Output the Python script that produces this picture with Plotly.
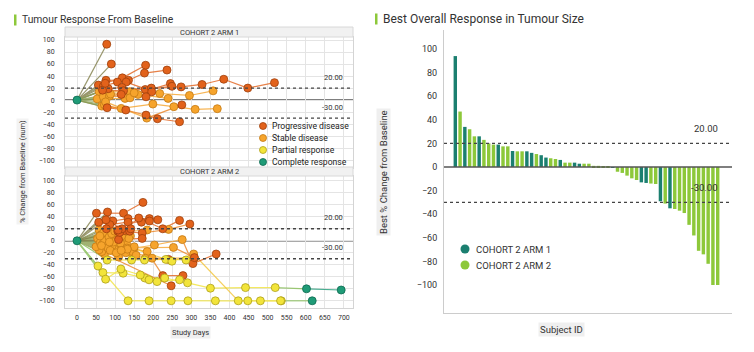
import plotly.graph_objects as go

W, H = 754, 352

# ---------------- DATA ----------------
categories = ["Progressive disease", "Stable disease", "Partial response", "Complete response"]
cat_codes = ["PD", "SD", "PR", "CR"]
cat_fill = {"PD": "#E2621B", "SD": "#F6A42C", "PR": "#F2E43A", "CR": "#1F9B77"}
cat_edge = {"PD": "#9E400C", "SD": "#C47A14", "PR": "#ADA01C", "CR": "#0E6A50"}

baseline_day = 0
baseline_val = 0

# COHORT 2 ARM 1 : per-patient visits (study day, % change, response)
arm1_days = [
    [78], [90], [56, 119, 180], [76, 135, 177, 236], [69, 106, 129, 188, 245],
    [82, 118, 179, 249], [67, 122, 195, 273, 328, 385, 448, 518],
    [58, 139, 217, 295, 357], [53, 126, 139, 160, 239], [69, 116, 196], [85, 181],
    [65, 116, 199, 254, 310, 368], [79, 128], [72, 181, 211, 269], [75, 183, 275],
    [74], [88, 150],
]
arm1_vals = [
    [93], [60], [25, 37, 58], [33, 33, 45, 50], [23, 30, 30, 16.5, 27.5],
    [19, 21, 17.6, 23], [16.5, 15.4, 20, 22, 26, 34.7, 20, 29],
    [13.8, 13.8, 11, 7.7, 15.4], [2, 2.8, 3.8, 9.4, 2.8], [5.5, 9.4, 13.8], [6.6, 5.5],
    [-10, -13.8, -6.6, -11, -15.4, -14.3], [-12.7, -16.5], [-8, -25, -31, -36], [-3, -30, -8],
    [28], [10, 12],
]
arm1_cats = [
    ["PD"], ["PD"], ["PD"] * 3, ["PD"] * 4, ["PD"] * 5,
    ["PD"] * 4, ["PD"] * 8,
    ["SD"] * 5, ["SD"] * 5, ["SD", "PD", "PD"], ["SD", "PD"],
    ["SD"] * 6, ["PD", "PD"], ["SD", "PD", "PD", "PD"], ["SD", "SD", "PD"],
    ["PD"], ["SD", "SD"],
]

# COHORT 2 ARM 2
arm2_days = [
    [55, 134, 189, 247, 291, 363, 448, 536, 617],
    [68, 121, 178, 230, 290, 350, 442, 520, 602, 693],
    [79, 143, 177, 233, 286],
    [75, 115, 166, 189, 210, 269],
    [60, 149, 249, 306, 423, 481, 534],
    [51, 122, 173], [80, 94, 134, 190, 212], [57, 86, 134, 169, 190],
    [76, 124, 162, 225, 269], [107, 171, 240, 296], [109, 171], [62, 184],
    [90, 184, 225, 278], [72, 247], [120, 203, 276, 304, 365], [100, 253, 308],
    [88, 179, 240], [95, 197, 308], [65, 144], [58, 109], [66, 130],
    [50, 102], [54, 96, 140], [58, 112], [61, 98, 145], [63, 118], [67, 105, 150],
    [70, 126], [73, 92, 131], [77, 120], [81, 114], [84, 108, 138], [87, 128],
    [91, 136], [96, 117], [99, 141], [103, 132], [60, 85], [64, 116, 155],
]
arm2_vals = [
    [-42, -100, -100, -100, -100, -100, -100, -100, -100],
    [-53, -54, -62, -62, -70, -79, -78, -78, -80, -82],
    [-32, -32, -32, -31, -32],
    [-64, -47, -57, -65, -68, -65],
    [-5, -13, -34, -22, -100, -100, -100],
    [46, 46, 64], [48, 33, 37, 37, 35], [31, 27, 31, 31, 33],
    [35, 17, 38, 20, 34], [16, 13, 19, 28], [2, 4], [12, 18],
    [-5, -18, -58, -58], [-22, -75], [-15, -7, 2, -38, -22], [-12, -11, -28],
    [-14, -29, -31], [-8, -29, -29], [-18, -21], [-15, -27], [8, -5],
    [-10, -6], [4, 12, 8], [18, 14], [-3, -14, -18], [10, 20], [-6, 2, -10],
    [14, 6], [0, -8, -12], [20, 10], [-12, -4], [6, 18, 16], [-16, -20],
    [12, 4], [-2, 8], [16, 20], [-20, -14], [8, -2], [-8, -16, -24],
]
arm2_cats = [
    ["PR"] * 8 + ["CR"],
    ["PR"] * 8 + ["CR", "CR"],
    ["PR"] * 5,
    ["PR"] * 6,
    ["SD", "SD", "PR", "SD", "PR", "PR", "PR"],
    ["PD"] * 3, ["PD"] * 5, ["PD"] * 5,
    ["PD"] * 5, ["PD", "PD", "SD", "PD"], ["PD", "PD"], ["SD", "SD"],
    ["SD", "SD", "PD", "PD"], ["SD", "PD"], ["SD", "SD", "SD", "PD", "PD"], ["SD", "SD", "PD"],
    ["SD", "SD", "PD"], ["SD", "SD", "SD"], ["SD", "SD"], ["SD", "SD"], ["SD", "SD"],
    ["SD", "SD"], ["SD"] * 3, ["SD", "PD"], ["SD"] * 3, ["SD", "PD"], ["SD"] * 3,
    ["SD", "SD"], ["SD"] * 3, ["PD", "SD"], ["SD", "SD"], ["SD", "PD", "PD"], ["SD", "SD"],
    ["SD", "SD"], ["SD", "SD"], ["SD", "PD"], ["SD", "SD"], ["SD", "SD"], ["SD"] * 3,
]

thresholds = [20, -30]
day_ticks = list(range(0, 701, 50))

# Waterfall: best overall response per subject (sorted), and the arm of each subject
best_response = [94, 47, 34, 32, 26, 26, 23, 20, 19, 19, 17.5, 17.5, 13.6, 13.3, 13.3, 13.3,
                 12, 11, 10, 8, 7.4, 6.8, 6, 3.7, 3.7, 3.7, 2.8, 2.8, 2.8, 1, 1, 0.8, 0.5,
                 -0.5, -4, -5, -7.3, -9.6, -11, -13, -13.5, -14, -14.4, -29, -31, -35, -35.6,
                 -37, -39, -49, -58, -71, -74, -82, -100, -100]
best_arm = ["1", "2", "1", "2", "2", "1", "2", "2", "2", "1", "2", "2", "1", "2", "2", "1",
            "1", "2", "1", "1", "2", "2", "1", "2", "2", "1", "1", "2", "2", "2", "2", "2", "2",
            "1", "2", "2", "2", "2", "2", "1", "1", "2", "2", "1", "2", "1", "2",
            "2", "2", "2", "2", "2", "2", "2", "2", "2"]
arm_names = {"1": "COHORT 2 ARM 1", "2": "COHORT 2 ARM 2"}
arm_colors = {"1": "#1B7F70", "2": "#8DC83A"}

# ---------------- HELPERS ----------------
FONT = "Roboto"


def px(x):
    return x / W


def py(y):
    return 1 - y / H


def blend(c1, c2):
    a = [int(c1[i:i + 2], 16) for i in (1, 3, 5)]
    b = [int(c2[i:i + 2], 16) for i in (1, 3, 5)]
    return "#" + "".join(f"{(p + q) // 2:02x}" for p, q in zip(a, b))


fig = go.Figure()


def add_spaghetti(days, vals, cats, xa, ya):
    segs = {}
    for d, v, c in zip(days, vals, cats):
        pd_ = [baseline_day] + d
        pv = [baseline_val] + v
        pc = ["CR"] + c
        for i in range(len(pd_) - 1):
            key = (pc[i], pc[i + 1])
            s = segs.setdefault(key, ([], []))
            s[0].extend([pd_[i], pd_[i + 1], None])
            s[1].extend([pv[i], pv[i + 1], None])
    for (c1, c2), (sx, sy) in segs.items():
        fig.add_trace(go.Scatter(x=sx, y=sy, mode="lines", xaxis=xa, yaxis=ya,
                                 line=dict(color=blend(cat_fill[c1], cat_fill[c2]), width=1.2),
                                 opacity=0.8, showlegend=False, hoverinfo="skip"))


def add_markers(days, vals, cats, xa, ya):
    for code in ["SD", "PD", "PR", "CR"]:
        mx, my = [], []
        for d, v, c in zip(days, vals, cats):
            for dd, vv, cc in zip(d, v, c):
                if cc == code:
                    mx.append(dd)
                    my.append(vv)
        if code == "CR":
            mx.append(baseline_day)
            my.append(baseline_val)
        fig.add_trace(go.Scatter(x=mx, y=my, mode="markers", xaxis=xa, yaxis=ya,
                                 marker=dict(size=8, color=cat_fill[code],
                                             line=dict(color=cat_edge[code], width=0.8)),
                                 showlegend=False,
                                 name=categories[cat_codes.index(code)]))


add_spaghetti(arm1_days, arm1_vals, arm1_cats, "x", "y")
add_spaghetti(arm2_days, arm2_vals, arm2_cats, "x2", "y2")
add_markers(arm1_days, arm1_vals, arm1_cats, "x", "y")
add_markers(arm2_days, arm2_vals, arm2_cats, "x2", "y2")

# Waterfall bars
for arm in ["1", "2"]:
    bx = [i for i, a in enumerate(best_arm) if a == arm]
    by = [best_response[i] for i in bx]
    fig.add_trace(go.Bar(x=bx, y=by, xaxis="x3", yaxis="y3", width=0.72,
                         marker=dict(color=arm_colors[arm], line=dict(width=0)),
                         name=arm_names[arm], showlegend=False))

# ---------------- LAYOUT ----------------
grid = "#E4E4E4"
tickc = "#333333"
left_dom = [px(65), px(353)]
common_x = dict(range=[-31.5, 724], tick0=0, dtick=50, gridcolor=grid, showline=True,
                linecolor="#D4D4D4", mirror=True, zeroline=False)
common_y = dict(tick0=0, dtick=20, gridcolor=grid, showline=True, linecolor="#D4D4D4",
                mirror=True, zeroline=False, ticks="outside", ticklen=8,
                tickcolor="rgba(0,0,0,0)", tickfont=dict(size=7, color=tickc, family=FONT),
                tickvals=list(range(-100, 101, 20)))

fig.update_layout(
    width=W, height=H, margin=dict(l=0, r=0, t=0, b=0),
    paper_bgcolor="white", plot_bgcolor="white", barmode="overlay",
    font=dict(family=FONT, color=tickc),
    xaxis=dict(domain=left_dom, anchor="y", showticklabels=False, **common_x),
    yaxis=dict(domain=[py(168), py(37)], anchor="x", range=[-113, 105], **common_y),
    xaxis2=dict(domain=left_dom, anchor="y2", tickvals=day_ticks, ticks="outside", ticklen=3,
                tickcolor="rgba(0,0,0,0)", tickfont=dict(size=7, color=tickc, family=FONT),
                **common_x),
    yaxis2=dict(domain=[py(308), py(176)], anchor="x2", range=[-112, 108], **common_y),
    xaxis3=dict(domain=[px(444), px(732)], anchor="y3", range=[-2.37, 58.0], showticklabels=False,
                showgrid=False, zeroline=False, showline=True, linecolor="#CCCCCC", ticks=""),
    yaxis3=dict(domain=[py(313), py(30)], anchor="x3", range=[-123.7, 116.1], showgrid=False,
                zeroline=False, showline=True, linecolor="#CCCCCC",
                tickvals=list(range(-100, 101, 20)), ticks="outside", ticklen=4,
                tickcolor="rgba(0,0,0,0)", tickfont=dict(size=9, color=tickc, family=FONT)),
)

shapes = []
annotations = []

# reference lines
for xa, ya, layer in [("x", "y", "below"), ("x2", "y2", "below"), ("x3", "y3", "above")]:
    shapes.append(dict(type="line", xref=f"{xa} domain", yref=ya, x0=0, x1=1, y0=0, y1=0,
                       line=dict(color="#555555", width=1.6), layer=layer))
    for t in thresholds:
        shapes.append(dict(type="line", xref=f"{xa} domain", yref=ya, x0=0, x1=1, y0=t, y1=t,
                           line=dict(color="#444444", width=1.4, dash="dot"), layer="above"))

for xa, ya in [("x", "y"), ("x2", "y2")]:
    for t in thresholds:
        annotations.append(dict(text=f"{t:.2f}", xref=f"{xa} domain", yref=ya, x=0.972, y=t,
                                xanchor="right", yanchor="middle", yshift=11, showarrow=False,
                                font=dict(size=7.5, color=tickc)))
for t in thresholds:
    annotations.append(dict(text=f"{t:.2f}", xref="x3 domain", yref="y3", x=0.958, y=t,
                            xanchor="right", yanchor="middle", yshift=15, showarrow=False,
                            font=dict(size=9.5, color=tickc)))

# facet headers
for (y0, y1), label in [((27, 37), arm_names["1"]), ((167, 176), arm_names["2"])]:
    shapes.append(dict(type="rect", xref="paper", yref="paper", x0=px(65), x1=px(353),
                       y0=py(y1), y1=py(y0), fillcolor="#F1F1F1", line=dict(color="#D8D8D8", width=1)))
    annotations.append(dict(text=label, xref="paper", yref="paper", x=px(209), y=py((y0 + y1) / 2),
                            xanchor="center", yanchor="middle", showarrow=False,
                            font=dict(size=7.5, color=tickc)))

# titles with green marks
for x, y, size, text in [(20, 20, 10.3, "Tumour Response From Baseline"),
                         (381, 19, 12, "Best Overall Response in Tumour Size")]:
    shapes.append(dict(type="rect", xref="paper", yref="paper", x0=px(x - 6), x1=px(x - 3.5),
                       y0=py(y + 5.5), y1=py(y - 5.5), fillcolor="#8DC83A", line=dict(width=0)))
    annotations.append(dict(text=text, xref="paper", yref="paper", x=px(x), y=py(y),
                            xanchor="left", yanchor="middle", showarrow=False,
                            font=dict(size=size, color="#333333")))

# axis titles
annotations.append(dict(text="% Change from Baseline (num)", xref="paper", yref="paper",
                        x=px(22), y=py(172), xanchor="center", yanchor="middle",
                        textangle=-90, showarrow=False,
                        font=dict(size=7.5, color=tickc), bgcolor="#F3F3F3"))
annotations.append(dict(text="Study Days", xref="paper", yref="paper", x=px(190), y=py(332),
                        xanchor="center", yanchor="middle",
                        showarrow=False, font=dict(size=7.5, color=tickc), bgcolor="#EFEFEF"))
annotations.append(dict(text="Best % Change from Baseline", xref="paper", yref="paper",
                        x=px(383), y=py(172), xanchor="center", yanchor="middle",
                        textangle=-90, showarrow=False,
                        font=dict(size=9.5, color=tickc), bgcolor="#EFEFEF"))
annotations.append(dict(text="Subject ID", xref="paper", yref="paper", x=px(561), y=py(329),
                        xanchor="center", yanchor="middle",
                        showarrow=False, font=dict(size=9.5, color=tickc), bgcolor="#EFEFEF"))

# left legend (response categories)
for i, code in enumerate(cat_codes):
    yy = 126 + 12 * i
    shapes.append(dict(type="circle", xref="paper", yref="paper", x0=px(259.5), x1=px(266.5),
                       y0=py(yy + 3.5), y1=py(yy - 3.5), fillcolor=cat_fill[code],
                       line=dict(color=cat_edge[code], width=0.8)))
    annotations.append(dict(text=categories[i], xref="paper", yref="paper", x=px(270), y=py(yy),
                            xanchor="left", yanchor="middle", showarrow=False,
                            font=dict(size=8.6, color="#222222")))

# right legend (arms)
for i, arm in enumerate(["1", "2"]):
    yy = 249 + 16 * i
    shapes.append(dict(type="circle", xref="paper", yref="paper", x0=px(460.5), x1=px(469.5),
                       y0=py(yy + 4.5), y1=py(yy - 4.5), fillcolor=arm_colors[arm],
                       line=dict(width=0)))
    annotations.append(dict(text=arm_names[arm], xref="paper", yref="paper", x=px(474), y=py(yy),
                            xanchor="left", yanchor="middle", showarrow=False,
                            font=dict(size=9.5, color="#333333")))

fig.update_layout(shapes=shapes, annotations=annotations)
fig.write_html("out.html")
